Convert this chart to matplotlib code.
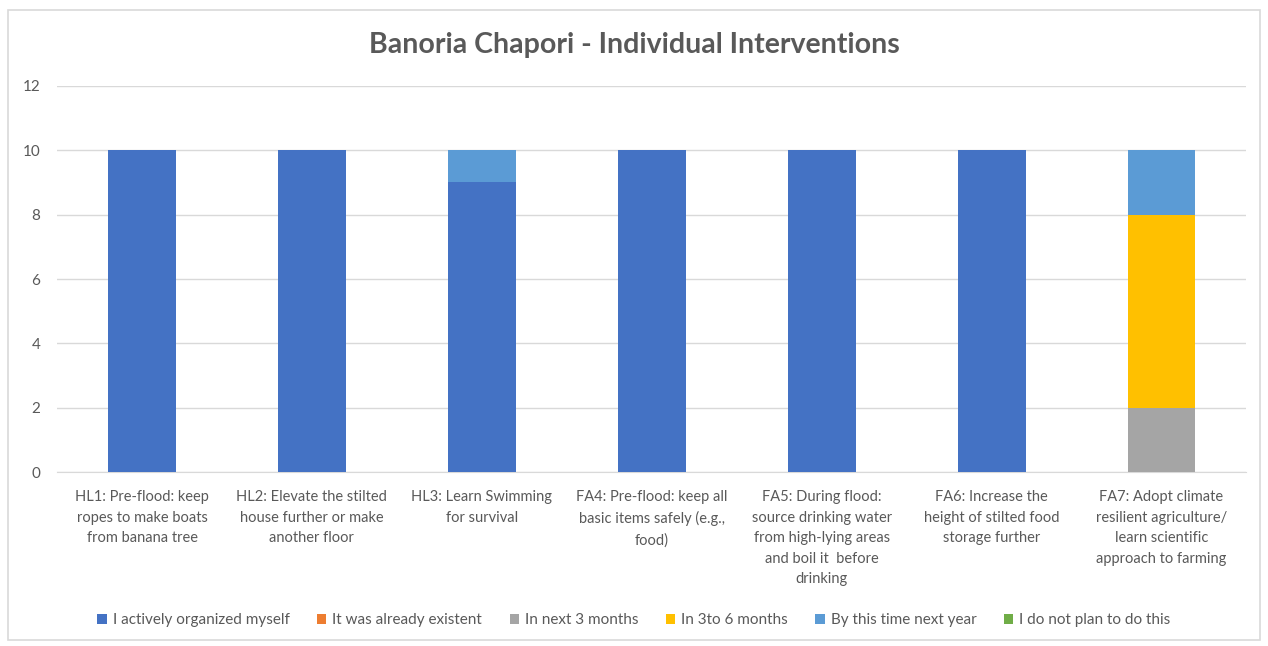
import numpy as np
import matplotlib.pyplot as plt
from matplotlib.patches import Rectangle

categorias = [
    "HL1: Pre-flood: keep\nropes to make boats\nfrom banana tree",
    "HL2: Elevate the stilted\nhouse further or make\nanother floor",
    "HL3: Learn Swimming\nfor survival",
    "FA4: Pre-flood: keep all\nbasic items safely (e.g.,\nfood)",
    "FA5: During flood:\nsource drinking water\nfrom high-lying areas\nand boil it  before\ndrinking",
    "FA6: Increase the\nheight of stilted food\nstorage further",
    "FA7: Adopt climate\nresilient agriculture/\nlearn scientific\napproach to farming",
]
series = [
    "I actively organized myself",
    "It was already existent",
    "In next 3 months",
    "In 3to 6 months",
    "By this time next year",
    "I do not plan to do this",
]
organized = [10, 10, 9, 10, 10, 10, 0]
existent = [0, 0, 0, 0, 0, 0, 0]
next3 = [0, 0, 0, 0, 0, 0, 2]
in3to6 = [0, 0, 0, 0, 0, 0, 6]
next_year = [0, 0, 1, 0, 0, 0, 2]
no_plan = [0, 0, 0, 0, 0, 0, 0]
colores = ["#4472C4", "#ED7D31", "#A5A5A5", "#FFC000", "#5B9BD5", "#70AD47"]

plt.rcParams['font.family'] = ['Lato', 'DejaVu Sans']
gris = "#595959"

fig = plt.figure(figsize=(12.68, 6.46), dpi=100)
ax = fig.add_axes([0.045, 0.2693, 0.938, 0.5976])

x = np.arange(len(categorias))
base = np.zeros(len(categorias))
for nombre, valores, color in zip(series, [organized, existent, next3, in3to6, next_year, no_plan], colores):
    valores = np.array(valores, dtype=float)
    ax.bar(x, valores, 0.4, bottom=base, color=color, label=nombre, zorder=3)
    base += valores

ax.set_xlim(-0.5, len(categorias) - 0.5)
ax.set_ylim(0, 12)
ax.set_yticks(range(0, 13, 2))
ax.set_xticks(x)
ax.set_xticklabels(categorias, fontsize=10.5, color=gris, linespacing=1.6, va='top')
ax.tick_params(axis='y', labelsize=11, labelcolor=gris, length=0, pad=12)
ax.tick_params(axis='x', length=0, pad=13)
ax.grid(axis='y', color='#d9d9d9', linewidth=1, zorder=0)
for lado in ['top', 'right', 'left']:
    ax.spines[lado].set_visible(False)
ax.spines['bottom'].set_color('#d9d9d9')

fig.suptitle("Banoria Chapori - Individual Interventions", y=0.930, va='center',
             fontsize=20.5, fontweight='bold', color=gris)

handles, labels = ax.get_legend_handles_labels()
fig.legend(handles, labels, loc='center', bbox_to_anchor=(0.5, 0.04), ncol=6,
           frameon=False, fontsize=11, labelcolor=gris, handlelength=0.6,
           handleheight=0.6, handletextpad=0.4, columnspacing=1.8)

fig.patches.append(Rectangle((0.006, 0.01), 0.988, 0.975, transform=fig.transFigure,
                             fill=False, edgecolor='#d9d9d9', linewidth=1.2))

fig.savefig("out.png", dpi=100)
